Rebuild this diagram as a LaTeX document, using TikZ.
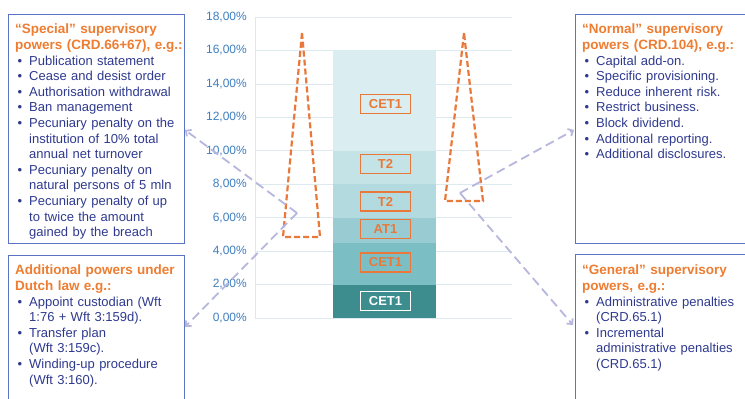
\documentclass[tikz,border=0pt]{standalone}
\usepackage{fontspec}
\setmainfont{Liberation Sans}
\usetikzlibrary{arrows.meta}
\definecolor{bodyblue}{HTML}{2F3A8F}
\definecolor{titleorange}{HTML}{EE7D31}
\definecolor{boxblue}{HTML}{5B73C4}
\definecolor{axisblue}{HTML}{3F7FC0}
\definecolor{gridc}{HTML}{DCEAF0}
\definecolor{segA}{HTML}{3D8C8E}
\definecolor{segB}{HTML}{7BBFC5}
\definecolor{segC}{HTML}{98CCD2}
\definecolor{segD}{HTML}{B3DBDF}
\definecolor{segE}{HTML}{C4E3E6}
\definecolor{segF}{HTML}{DAEEF1}
\definecolor{arrowlav}{HTML}{B7B7DE}
\definecolor{lblorange}{HTML}{E8793A}
\newcommand{\ttl}[1]{{\fontsize{13.5}{15.6}\selectfont\bfseries\color{titleorange}#1\par}}
\newcommand{\bitem}[1]{\par\noindent\hangindent=14pt\hangafter=1\makebox[14pt][l]{\hspace{2.5pt}•}#1\par}
\tikzset{
  boxframe/.style={draw=boxblue, line width=1.2pt, inner sep=0pt, anchor=north west},
  boxtext/.style={anchor=north west, inner sep=0pt, text width=190pt, align=left,
    font=\fontsize{13}{15.6}\selectfont, text=bodyblue},
  gridline/.style={draw=gridc, line width=0.8pt},
  axlab/.style={anchor=east, inner sep=0pt, text=axisblue, font=\fontsize{12}{13}\selectfont},
  lbl/.style={draw=lblorange, line width=1.3pt, text=lblorange, minimum width=50pt, minimum height=19pt,
    inner sep=0pt, font=\fontsize{13}{14}\selectfont\bfseries},
  lblw/.style={lbl, draw=white, text=white},
  tri/.style={draw=lblorange, line width=2.2pt, dash pattern=on 6pt off 3pt, line join=miter},
  arr/.style={draw=arrowlav, line width=1.8pt, dash pattern=on 9pt off 5pt,
    -{Straight Barb[length=4pt,width=8pt]}}
}
\begin{document}
\begin{tikzpicture}[x=1pt, y=-1pt]
\clip (0,0) rectangle (745,399);
\fill[white] (0,0) rectangle (745,399);
% chart
\begin{scope}[shift={(0,318)}, y=16.72pt]
  \foreach \v in {0,2,...,18} {
    \draw[gridline] (255,\v) -- (512,\v);
    \node[axlab] (ax\v) at (247,\v) {\v,00\%};
  }
  \draw[gridline] (255,0) -- (255,18);
  \fill[segA] (333,0) rectangle (436,2);
  \fill[segB] (333,2) rectangle (436,4.5);
  \fill[segC] (333,4.5) rectangle (436,6);
  \fill[segD] (333,6) rectangle (436,8);
  \fill[segE] (333,8) rectangle (436,10);
  \fill[segF] (333,10) rectangle (436,16);
\end{scope}
\node[lbl]  (l1) at (385.5,104) {CET1};
\node[lbl]  (l2) at (385.5,164) {T2};
\node[lbl]  (l3) at (385.5,201.5) {T2};
\node[lbl]  (l4) at (385.5,229) {AT1};
\node[lbl]  (l5) at (385.5,262.5) {CET1};
\node[lblw] (l6) at (385.5,301) {CET1};
% triangles
\draw[tri] (302,33) -- (283,237) -- (320,237) -- cycle;
\draw[tri] (464,33) -- (445,201) -- (483,201) -- cycle;
% boxes
\node[boxframe, minimum width=176pt, minimum height=229pt] (boxA) at (8,14) {};
\node[boxframe, minimum width=176pt, minimum height=160pt] (boxB) at (8,255) {};
\node[boxframe, minimum width=180pt, minimum height=229pt] (boxC) at (575,14) {};
\node[boxframe, minimum width=180pt, minimum height=160pt] (boxD) at (575,254) {};
\node[boxtext] (tA) at (15,24) {%
\ttl{“Special” supervisory\\powers (CRD.66+67), e.g.:}%
\bitem{Publication statement}%
\bitem{Cease and desist order}%
\bitem{Authorisation withdrawal}%
\bitem{Ban management}%
\bitem{Pecuniary penalty on the\newline institution of 10\% total\newline annual net turnover}%
\bitem{Pecuniary penalty on\newline natural persons of 5 mln}%
\bitem{Pecuniary penalty of up\newline to twice the amount\newline gained by the breach}};
\node[boxtext] (tB) at (15,265) {%
\ttl{Additional powers under\\Dutch law e.g.:}%
\bitem{Appoint custodian (Wft\newline 1:76 + Wft 3:159d).}%
\bitem{Transfer plan\newline (Wft 3:159c).}%
\bitem{Winding-up procedure\newline (Wft 3:160).}};
\node[boxtext] (tC) at (582,24) {%
\ttl{“Normal” supervisory\\powers (CRD.104), e.g.:}%
\bitem{Capital add-on.}%
\bitem{Specific provisioning.}%
\bitem{Reduce inherent risk.}%
\bitem{Restrict business.}%
\bitem{Block dividend.}%
\bitem{Additional reporting.}%
\bitem{Additional disclosures.}};
\node[boxtext] (tD) at (582,265) {%
\ttl{“General” supervisory\\powers, e.g.:}%
\bitem{Administrative penalties\newline (CRD.65.1)}%
\bitem{Incremental\newline administrative penalties\newline (CRD.65.1)}};
% arrows
\coordinate (lp) at (297,213);
\coordinate (la) at (185,130);
\coordinate (lb) at (185,327);
\coordinate (rp) at (460,193);
\coordinate (ra) at (574,130);
\coordinate (rb) at (573,325);
\draw[arr] (lp) -- (la);
\draw[arr] (lp) -- (lb);
\draw[arr] (rp) -- (ra);
\draw[arr] (rp) -- (rb);
\end{tikzpicture}
\end{document}
